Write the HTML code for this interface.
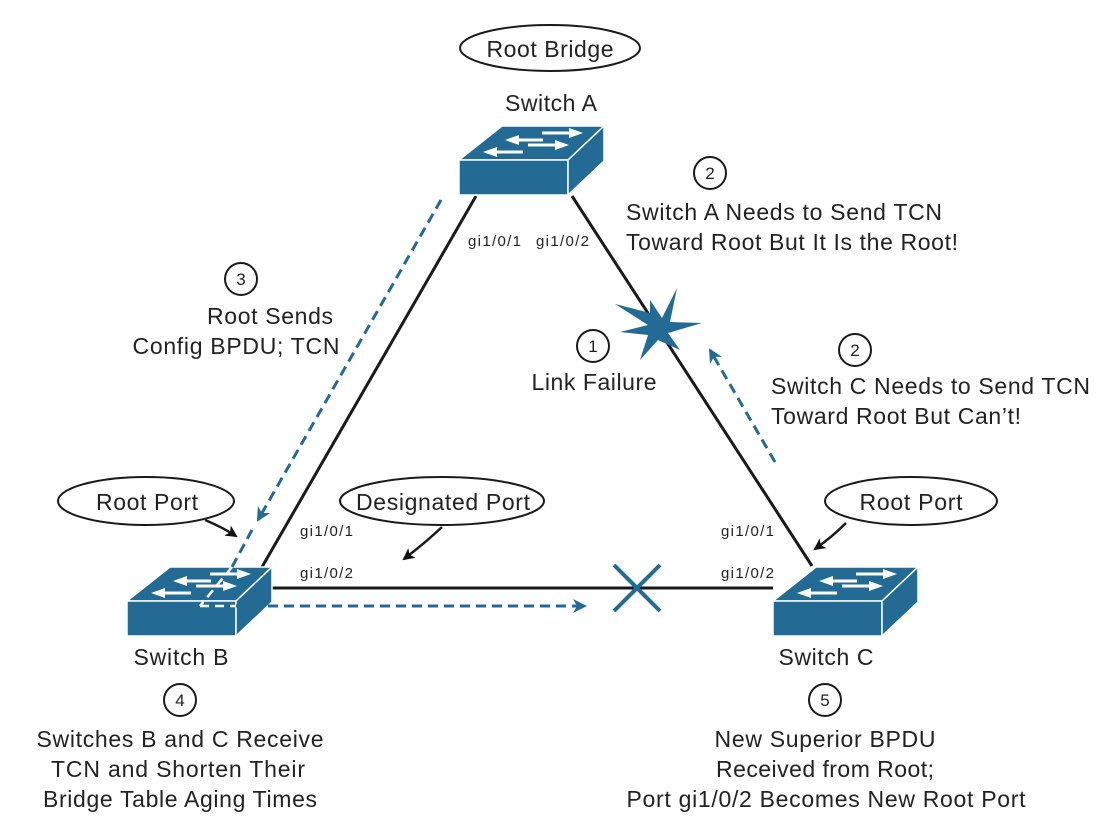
<!DOCTYPE html>
<html><head><style>
body{margin:0;background:#fff}
svg{display:block}
text{font-family:"Liberation Sans",Arial,Helvetica,sans-serif;fill:#222}
.t{font-size:23px;text-anchor:middle}
.l{font-size:23px}
.s{font-size:15px}
</style></head><body>
<svg width="1104" height="816" viewBox="0 0 1104 816" xmlns="http://www.w3.org/2000/svg">
<defs>
<marker id="bk" markerWidth="12" markerHeight="12" refX="10" refY="6" orient="auto" markerUnits="userSpaceOnUse" viewBox="0 0 12 12"><path d="M0,0 L12,6 L0,12 L3,6z" fill="#111"/></marker>
<marker id="bl" markerWidth="14" markerHeight="14" refX="12" refY="7" orient="auto" markerUnits="userSpaceOnUse" viewBox="0 0 14 14"><path d="M0,0 L14,7 L0,14 L4,7z" fill="#236a94"/></marker>
<g id="sw">
<polygon points="0,34 43,0 145,0 109,34" fill="#236a94" stroke="#fff" stroke-width="1.5"/>
<rect x="0" y="34" width="109" height="35" fill="#236a94" stroke="#fff" stroke-width="1.5"/>
<polygon points="109,34 145,0 145,35 109,69" fill="#236a94" stroke="#fff" stroke-width="1.5"/>
<g stroke="#fff" stroke-width="3" fill="#fff">
<line x1="83" y1="7" x2="112" y2="7"/><polygon points="110,2 124,7 110,12" stroke="none"/>
<line x1="58" y1="14" x2="84" y2="14"/><polygon points="60,9 46,14 60,19" stroke="none"/>
<line x1="69" y1="19" x2="98" y2="19"/><polygon points="96,14 110,19 96,24" stroke="none"/>
<line x1="36" y1="26" x2="64" y2="26"/><polygon points="38,21 24,26 38,31" stroke="none"/>
</g>
</g>
</defs>
<g stroke="#1a1a1a" stroke-width="3">
<line x1="476" y1="196" x2="262" y2="567"/>
<line x1="572" y1="196" x2="812" y2="566"/>
<line x1="272" y1="588" x2="773" y2="588"/>
</g>
<use href="#sw" x="459" y="126"/>
<use href="#sw" x="127" y="567"/>
<use href="#sw" x="773" y="567"/>
<g stroke="#236a94" stroke-width="3" stroke-dasharray="10,6" fill="none">
<line x1="441" y1="200" x2="258" y2="520" marker-end="url(#bl)"/>
<line x1="252" y1="530" x2="232" y2="567"/>
<line x1="236" y1="606" x2="585" y2="606" marker-end="url(#bl)"/>
<line x1="775" y1="462" x2="710" y2="350" marker-end="url(#bl)"/>
</g>
<g stroke="#fff" stroke-width="2.5" stroke-dasharray="9,6" fill="none">
<line x1="232" y1="567" x2="200" y2="606"/>
<line x1="200" y1="606" x2="236" y2="606"/>
</g>
<polygon points="615,304 650,313 650,300 662,318 677,288 670,322 702,323 668,333 680,350 658,340 640,360 648,335 620,332 648,325" fill="#236a94"/>
<g stroke="#236a94" stroke-width="4"><line x1="614" y1="565" x2="660" y2="611"/><line x1="660" y1="565" x2="614" y2="611"/></g>
<g fill="#fff" stroke="#1a1a1a" stroke-width="2">
<ellipse cx="550" cy="48" rx="90" ry="23"/>
<ellipse cx="146" cy="501" rx="88" ry="24"/>
<ellipse cx="442" cy="501" rx="102" ry="24"/>
<ellipse cx="911" cy="501" rx="86" ry="24"/>
<circle cx="710" cy="173" r="16"/>
<circle cx="241" cy="279" r="16"/>
<circle cx="593" cy="346" r="16"/>
<circle cx="855" cy="350" r="16"/>
<circle cx="180" cy="700" r="16"/>
<circle cx="825" cy="700" r="16"/>
</g>
<g stroke="#1a1a1a" stroke-width="2.5" fill="none">
<path d="M205,520 Q222,527 236,536" marker-end="url(#bk)"/>
<path d="M442,527 Q425,543 404,559" marker-end="url(#bk)"/>
<path d="M846,523 Q832,537 815,549" marker-end="url(#bk)"/>
</g>
<text class="t" x="550" y="57" textLength="127">Root Bridge</text>
<text class="t" x="551" y="111" textLength="92">Switch A</text>
<text class="t" x="147" y="510" textLength="102">Root Port</text>
<text class="t" x="443" y="510" textLength="174">Designated Port</text>
<text class="t" x="911" y="510" textLength="103">Root Port</text>
<text class="t" x="181" y="665" textLength="95">Switch B</text>
<text class="t" x="826" y="665" textLength="95">Switch C</text>
<g style="font-size:17px;text-anchor:middle">
<text x="710" y="179">2</text><text x="241" y="285">3</text><text x="593" y="352">1</text>
<text x="855" y="356">2</text><text x="180" y="706">4</text><text x="825" y="706">5</text>
</g>
<text class="l" x="626" y="220" textLength="316">Switch A Needs to Send TCN</text>
<text class="l" x="626" y="250" textLength="332">Toward Root But It Is the Root!</text>
<text class="t" x="270" y="324" textLength="126">Root Sends</text>
<text class="t" x="236" y="354" textLength="207">Config BPDU; TCN</text>
<text class="t" x="594" y="390" textLength="125">Link Failure</text>
<text class="l" x="771" y="394" textLength="319">Switch C Needs to Send TCN</text>
<text class="l" x="771" y="424" textLength="250">Toward Root But Can’t!</text>
<text class="t" x="180" y="747" textLength="287">Switches B and C Receive</text>
<text class="t" x="178" y="777" textLength="254">TCN and Shorten Their</text>
<text class="t" x="180" y="807" textLength="274">Bridge Table Aging Times</text>
<text class="t" x="825" y="747" textLength="221">New Superior BPDU</text>
<text class="t" x="825" y="777" textLength="218">Received from Root;</text>
<text class="t" x="826" y="807" textLength="399">Port gi1/0/2 Becomes New Root Port</text>
<text class="s" x="468" y="246" textLength="53">gi1/0/1</text>
<text class="s" x="536" y="246" textLength="53">gi1/0/2</text>
<text class="s" x="300" y="536" textLength="53">gi1/0/1</text>
<text class="s" x="300" y="578" textLength="53">gi1/0/2</text>
<text class="s" x="721" y="536" textLength="53">gi1/0/1</text>
<text class="s" x="721" y="578" textLength="53">gi1/0/2</text>
</svg>
</body></html>
